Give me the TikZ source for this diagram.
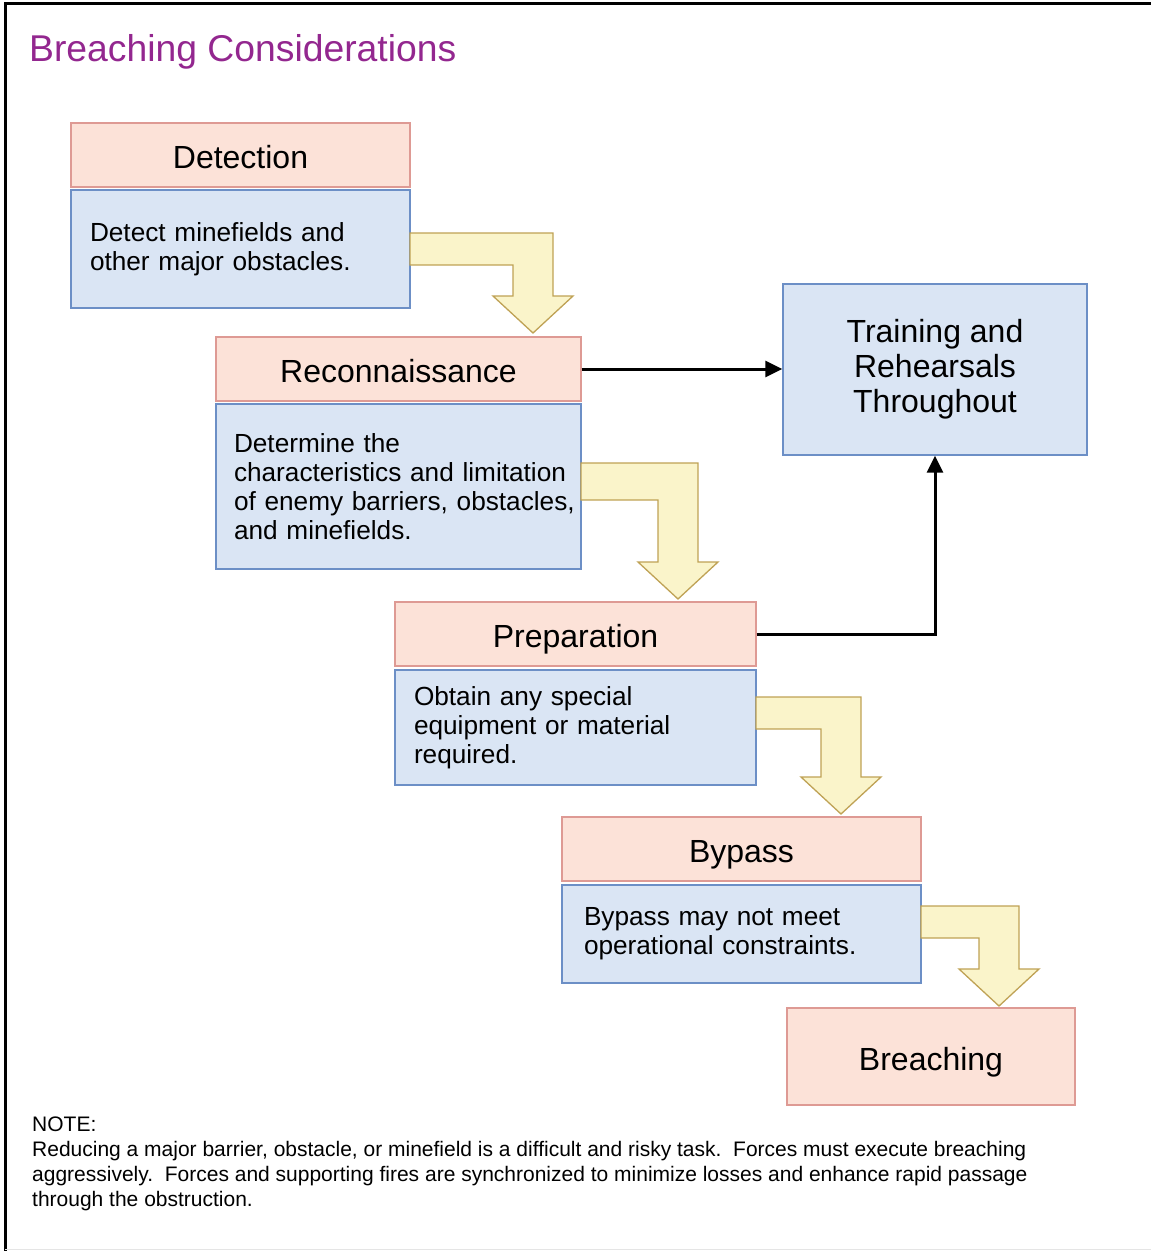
\documentclass[tikz,border=0pt]{standalone}
\usepackage{fontspec}
\setmainfont{Liberation Sans}
\usetikzlibrary{arrows.meta}

\definecolor{titlecol}{HTML}{93278F}
\definecolor{headfill}{HTML}{FCE2D8}
\definecolor{headline}{HTML}{DE9A94}
\definecolor{bodyfill}{HTML}{DAE5F4}
\definecolor{bodyline}{HTML}{6C8FC6}
\definecolor{bendfill}{HTML}{FAF4CA}
\definecolor{bendline}{HTML}{BFA255}

\tikzset{
  headbox/.style={draw=headline, fill=headfill, line width=1.3pt, rectangle,
    minimum height=64pt, text height=27pt, text depth=0pt, font=\fontsize{32}{36}\selectfont},
  bodybox/.style={draw=bodyline, fill=bodyfill, line width=1.3pt, rectangle,
    inner xsep=19pt, align=left, font=\fontsize{26.2}{29}\selectfont},
  bendarrow/.style={draw=bendline, fill=bendfill, line width=1.3pt, line join=miter},
  link/.style={line width=3pt, -{Triangle[length=17pt,width=16pt]}}
}

\begin{document}
\begin{tikzpicture}[x=1pt,y=-1pt]

\useasboundingbox (0,0) rectangle (1151,1251);

% cadre
\draw[line width=3pt] (1151,3) -- (5,3) -- (5,1251);
\draw[black!10, line width=1pt] (5,1249.5) -- (1151,1249.5);

\node[anchor=base west, text=titlecol, font=\fontsize{37.3}{40}\selectfont, inner sep=0pt] (title) at (29,61) {Breaching Considerations};

% etapes
\node[headbox, minimum width=339pt] (dethead) at (240.5,155) {Detection};
\node[bodybox, minimum width=339pt, minimum height=118pt, text width=301pt] (detbody) at (240.5,249)
  {Detect minefields and\\other major obstacles.};

\node[headbox, minimum width=365pt] (rechead) at (398.5,369) {Reconnaissance};
\node[bodybox, minimum width=365pt, minimum height=165pt, text width=329pt, inner xsep=18pt] (recbody) at (398.5,486.5)
  {Determine the\\\mbox{characteristics and limitation}\\\mbox{of enemy barriers, obstacles,}\\and minefields.};

\node[headbox, minimum width=361pt] (prephead) at (575.5,634) {Preparation};
\node[bodybox, minimum width=361pt, minimum height=115pt, text width=323pt] (prepbody) at (575.5,727.5)
  {Obtain any special\\equipment or material\\required.};

\node[headbox, minimum width=359pt] (byphead) at (741.5,849) {Bypass};
\node[bodybox, minimum width=359pt, minimum height=98pt, text width=315pt, inner xsep=22pt] (bypbody) at (741.5,934)
  {Bypass may not meet\\operational constraints.};

\node[headbox, minimum width=288pt, minimum height=97pt] (breach) at (931,1056.5) {Breaching};

\node[bodybox, minimum width=304pt, minimum height=171pt, align=center, font=\fontsize{32}{35}\selectfont] (train) at (935,369.5)
  {Training and\\Rehearsals\\Throughout};

% fleches jaunes
\draw[bendarrow] (410,233) -- (553,233) -- (553,296) -- (573,296) -- (533,333) -- (493,296) -- (513,296) -- (513,265) -- (410,265) -- cycle;
\draw[bendarrow] (581,463) -- (698,463) -- (698,562) -- (718,562) -- (678,599) -- (638,562) -- (658,562) -- (658,500) -- (581,500) -- cycle;
\draw[bendarrow] (756,697) -- (861,697) -- (861,777) -- (881,777) -- (841,814) -- (801,777) -- (821,777) -- (821,729) -- (756,729) -- cycle;
\draw[bendarrow] (921,906) -- (1019,906) -- (1019,969) -- (1039,969) -- (999,1006) -- (959,969) -- (979,969) -- (979,938) -- (921,938) -- cycle;

% liens
\draw[link] (rechead.east) -- (train.west |- rechead.east);
\draw[link] (prephead.east) -| (train.south);

\node[anchor=north west, align=left, inner sep=0pt, font=\fontsize{21}{25}\selectfont] (note) at (32,1117)
  {NOTE:\\
   Reducing a major barrier, obstacle, or minefield is a difficult and risky task.\ \ Forces must execute breaching\\
   aggressively.\ \ Forces and supporting fires are synchronized to minimize losses and enhance rapid passage\\
   through the obstruction.};

\end{tikzpicture}
\end{document}
